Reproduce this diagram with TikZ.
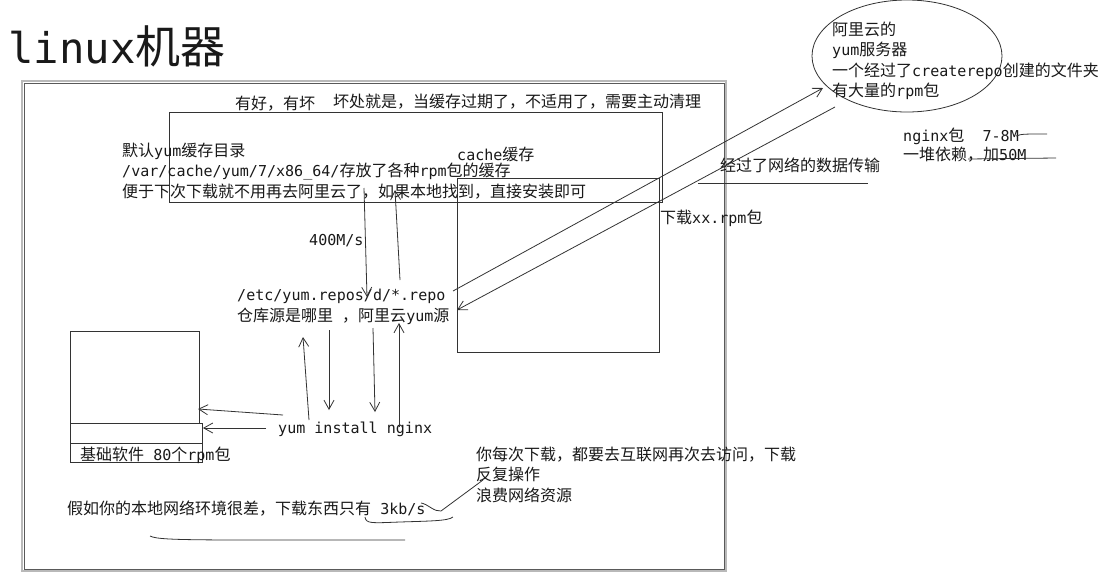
\documentclass[tikz,border=0pt]{standalone}
\usepackage{fontspec}
\usetikzlibrary{shapes.geometric,arrows.meta}
\setmainfont{DejaVu Sans Mono}[Scale=0.94]
\newfontfamily\cjkfont{Noto Sans CJK SC}
\XeTeXinterchartokenstate=1
\newXeTeXintercharclass\cjkclass
\newcount\cjkcnt
\newcommand\cjkrange[2]{\cjkcnt=#1\relax
  \loop\XeTeXcharclass\cjkcnt=\cjkclass\relax
  \ifnum\cjkcnt<#2\relax\advance\cjkcnt by 1\relax\repeat}
\cjkrange{"3000}{"303F}
\cjkrange{"4E00}{"9FFF}
\cjkrange{"FF00}{"FFEF}
\XeTeXinterchartoks 0 \cjkclass = {\cjkfont}
\XeTeXinterchartoks 4095 \cjkclass = {\cjkfont}
\XeTeXinterchartoks \cjkclass 0 = {\rmfamily}
\XeTeXinterchartoks \cjkclass 4095 = {\rmfamily}
\tikzset{
  txt/.style={anchor=base west, inner sep=0pt, font=\fontsize{16}{20.5}\selectfont, text=black!90},
  ln/.style={draw=black!80, line width=0.8pt},
  arr/.style={ln, -{Straight Barb[length=9pt,width=10pt]}},
  boxnode/.style={ln, anchor=north west, inner sep=0pt, outer sep=0pt},
}
\begin{document}
\begin{tikzpicture}[x=1pt,y=-1pt]
\useasboundingbox (0,0) rectangle (1098,574);
\fill[white] (0,0) rectangle (1098,574);

% title
\node[txt, font=\fontsize{45}{50}\selectfont] (title) at (8,63) {linux机器};

% outer frame
\node[boxnode, draw=gray!55, line width=1.4pt, minimum width=704pt, minimum height=490pt] (frameo) at (22,81) {};
\node[boxnode, draw=black!65, line width=0.8pt, minimum width=700pt, minimum height=486pt] (frame) at (24,83) {};

% boxes
\node[boxnode, draw, minimum width=493pt, minimum height=90pt] (boxa) at (169,112) {};
\node[boxnode, draw, minimum width=202pt, minimum height=174pt] (cache) at (457,178) {};
\node[boxnode, draw, minimum width=129pt, minimum height=92pt] (base) at (70,331) {};
\node[boxnode, draw, minimum width=132pt, minimum height=20pt] (band1) at (70,423) {};
\node[boxnode, draw, minimum width=132pt, minimum height=19pt] (band2) at (70,443) {};
\node[ln, draw, ellipse, minimum width=190pt, minimum height=112pt, inner sep=0pt] (ali) at (907,56) {};

% texts
\node[txt] (good) at (235,109) {有好，有坏};
\node[txt] (bad) at (333,107) {坏处就是，当缓存过期了，不适用了，需要主动清理};
\node[txt] (def) at (122,156) {\vtop{\hbox{默认yum缓存目录}\hbox{/var/cache/yum/7/x86\_64/存放了各种rpm包的缓存}\hbox{便于下次下载就不用再去阿里云了，如果本地找到，直接安装即可}}};
\node[txt] (cachelbl) at (457,160) {cache缓存};
\node[txt] (speed) at (309,245) {400M/s};
\node[txt] (repo) at (237,300) {/etc/yum.repos/d/*.repo};
\node[txt] (repo2) at (237,321) {仓库源是哪里 ，阿里云yum源};
\node[txt] (cmd) at (278,433) {yum install nginx};
\node[txt] (basel) at (80,460) {基础软件 80个rpm包};
\node[txt] (slow) at (67,514) {假如你的本地网络环境很差，下载东西只有 3kb/s};
\node[txt] (every) at (476,460) {\vtop{\hbox{你每次下载，都要去互联网再次去访问，下载}\hbox{反复操作}\hbox{浪费网络资源}}};
\node[txt] (dl) at (660,223) {下载xx.rpm包};
\node[txt] (net) at (720,171) {经过了网络的数据传输};
\node[txt] (alitxt) at (832,35) {\vtop{\hbox{阿里云的}\hbox{yum服务器}\hbox{一个经过了createrepo创建的文件夹}\hbox{有大量的rpm包}}};
\node[txt] (ng1) at (903,141) {nginx包~~7-8M};
\node[txt] (ng2) at (903,160) {一堆依赖，加50M};

% coordinates
\coordinate (a1s) at (364,188); \coordinate (a1e) at (367,297);
\coordinate (a2s) at (400,280); \coordinate (a2e) at (395,190);
\coordinate (c1s) at (453,291); \coordinate (c1e) at (823,88);
\coordinate (c2s) at (835,107); \coordinate (c2e) at (457,310);
\coordinate (e1s) at (309,420); \coordinate (e1e) at (303,337);
\coordinate (f1s) at (329,330); \coordinate (f1e) at (329,410);
\coordinate (g1s) at (373,328); \coordinate (g1e) at (375,412);
\coordinate (h1s) at (399,427); \coordinate (h1e) at (399,323);
\coordinate (i1s) at (283,415); \coordinate (i1e) at (198,409);
\coordinate (j1s) at (266,428); \coordinate (j1e) at (203,428);

% arrows
\draw[arr] (a1s) -- (a1e);
\draw[arr] (a2s) -- (a2e);
\draw[arr] (c1s) -- (c1e);
\draw[arr] (c2s) -- (c2e);
\draw[arr] (e1s) -- (e1e);
\draw[arr] (f1s) -- (f1e);
\draw[arr] (g1s) -- (g1e);
\draw[arr] (h1s) -- (h1e);
\draw[arr] (i1s) -- (i1e);
\draw[arr] (j1s) -- (j1e);

% hand-drawn lines
\coordinate (u1) at (698,183); \coordinate (u2) at (868,183);
\draw[ln] (u1) -- (u2);
\coordinate (s1a) at (1016,136); \coordinate (s1b) at (1047,134);
\draw[ln] (s1a) .. controls (1022,134) .. (s1b);
\coordinate (s2a) at (968,159); \coordinate (s2b) at (1056,158);
\draw[ln] (s2a) -- (s2b);
\coordinate (k1) at (365,517); \coordinate (k2) at (453,517);
\draw[ln] (k1) .. controls (366,524) and (372,523) .. (400,522) .. controls (430,521) and (448,521) .. (k2);
\coordinate (l1) at (150,536); \coordinate (l2) at (405,540);
\draw[ln] (l1) .. controls (156,539) and (170,540) .. (250,540) -- (l2);
\coordinate (w1) at (421,503); \coordinate (w2) at (483,480);
\draw[ln] (w1) .. controls (428,504) and (434,512) .. (441,511) -- (w2);
\end{tikzpicture}
\end{document}
